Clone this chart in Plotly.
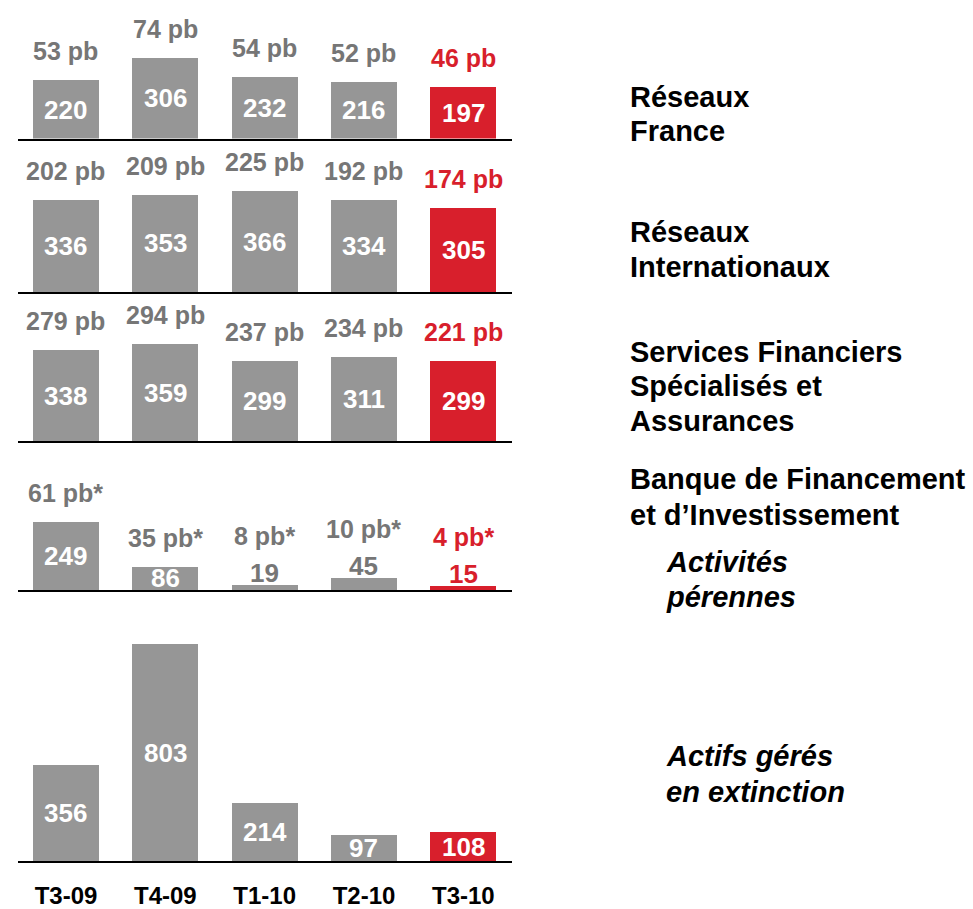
import plotly.graph_objects as go
from plotly.subplots import make_subplots

# data
quarters = ["T3-09", "T4-09", "T1-10", "T2-10", "T3-10"]

reseaux_france = [220, 306, 232, 216, 197]
reseaux_france_pb = ["53 pb", "74 pb", "54 pb", "52 pb", "46 pb"]

reseaux_inter = [336, 353, 366, 334, 305]
reseaux_inter_pb = ["202 pb", "209 pb", "225 pb", "192 pb", "174 pb"]

sfsa = [338, 359, 299, 311, 299]
sfsa_pb = ["279 pb", "294 pb", "237 pb", "234 pb", "221 pb"]

bfi_perennes = [249, 86, 19, 45, 15]
bfi_perennes_pb = ["61 pb*", "35 pb*", "8 pb*", "10 pb*", "4 pb*"]

bfi_extinction = [356, 803, 214, 97, 108]
bfi_extinction_pb = None

GRAY = "rgb(150,150,150)"
GRAY_TXT = "rgb(118,118,118)"
RED = "rgb(216,31,44)"
FONT = "Liberation Sans, Arial, sans-serif"

W, H = 973, 909


def px_x(px):
    return px / W


def px_y(py):
    return (H - py) / H


# (values, pb labels, baseline px, top px, px per unit)
panels = [
    (reseaux_france, reseaux_france_pb, 139.5, 0, 0.266),
    (reseaux_inter, reseaux_inter_pb, 294, 150, 0.277),
    (sfsa, sfsa_pb, 444, 300, 0.271),
    (bfi_perennes, bfi_perennes_pb, 594, 450, 0.274),
    (bfi_extinction, bfi_extinction_pb, 867, 600, 0.272),
]

fig = make_subplots(rows=5, cols=1)
colors = [GRAY] * 4 + [RED]
txt_colors = [GRAY_TXT] * 4 + [RED]

annotations = []
for i, (vals, pbs, base_px, top_px, scale) in enumerate(panels):
    row = i + 1
    fig.add_trace(
        go.Bar(x=quarters, y=vals, marker=dict(color=colors, line=dict(width=0)),
               width=0.665, showlegend=False, hoverinfo="skip"),
        row=row, col=1,
    )
    xr = "x" if row == 1 else f"x{row}"
    yr = "y" if row == 1 else f"y{row}"
    fig.update_yaxes(
        range=[0, (base_px - top_px) / scale],
        domain=[px_y(base_px), px_y(top_px)],
        visible=False, row=row, col=1,
    )
    fig.update_xaxes(
        domain=[px_x(18), px_x(512)], range=[-0.483, 4.49],
        showline=True, linecolor="black", linewidth=2,
        showticklabels=(row == 5), ticks="", showgrid=False, zeroline=False,
        tickfont=dict(family=FONT, size=24, color="black", weight="bold"),
        ticklabelstandoff=12,
        row=row, col=1,
    )
    for j, (q, v) in enumerate(zip(quarters, vals)):
        small = v * scale < 20
        if small:
            # tiny bars: value written just above the bar, in the bar colour
            annotations.append(dict(
                x=q, y=v, xref=xr, yref=yr, yanchor="bottom", yshift=-5,
                text=f"<b>{v}</b>", showarrow=False,
                font=dict(family=FONT, size=26, color=txt_colors[j]),
            ))
        else:
            annotations.append(dict(
                x=q, y=v / 2, xref=xr, yref=yr, yanchor="middle",
                text=f"<b>{v}</b>", showarrow=False,
                font=dict(family=FONT, size=26, color="white"),
            ))
        if pbs:
            annotations.append(dict(
                x=q, y=v, xref=xr, yref=yr, yanchor="bottom",
                yshift=13 + (20 if small else 0),
                text=f"<b>{pbs[j]}</b>", showarrow=False,
                font=dict(family=FONT, size=25, color=txt_colors[j]),
            ))

# business line labels on the right (one annotation per line)
right_labels = [
    ("Réseaux", 628, 98, False), ("France", 628, 132, False),
    ("Réseaux", 628, 234, False), ("Internationaux", 628, 269, False),
    ("Services Financiers", 628, 354, False), ("Spécialisés et", 628, 389, False),
    ("Assurances", 628, 424, False),
    ("Banque de Financement", 628, 482, False), ("et d’Investissement", 628, 518, False),
    ("Activités", 664, 566, True), ("pérennes", 664, 601, True),
    ("Actifs gérés", 664, 761, True), ("en extinction", 664, 797, True),
]
for text, px, py, ital in right_labels:
    t = f"<b><i>{text}</i></b>" if ital else f"<b>{text}</b>"
    annotations.append(dict(
        x=px_x(px), y=px_y(py), xref="paper", yref="paper",
        xanchor="left", yanchor="middle", text=t, showarrow=False,
        font=dict(family=FONT, size=29, color="black"),
    ))

fig.update_layout(
    width=W, height=H,
    margin=dict(l=0, r=0, t=0, b=0),
    paper_bgcolor="white", plot_bgcolor="white",
    bargap=0, annotations=annotations,
)

# drop the default 8px body margin so the figure fills the window exactly
fig.write_html(
    "out.html",
    config={"displayModeBar": False},
    post_script="document.body.style.margin='0';document.body.style.overflow='hidden';",
)
